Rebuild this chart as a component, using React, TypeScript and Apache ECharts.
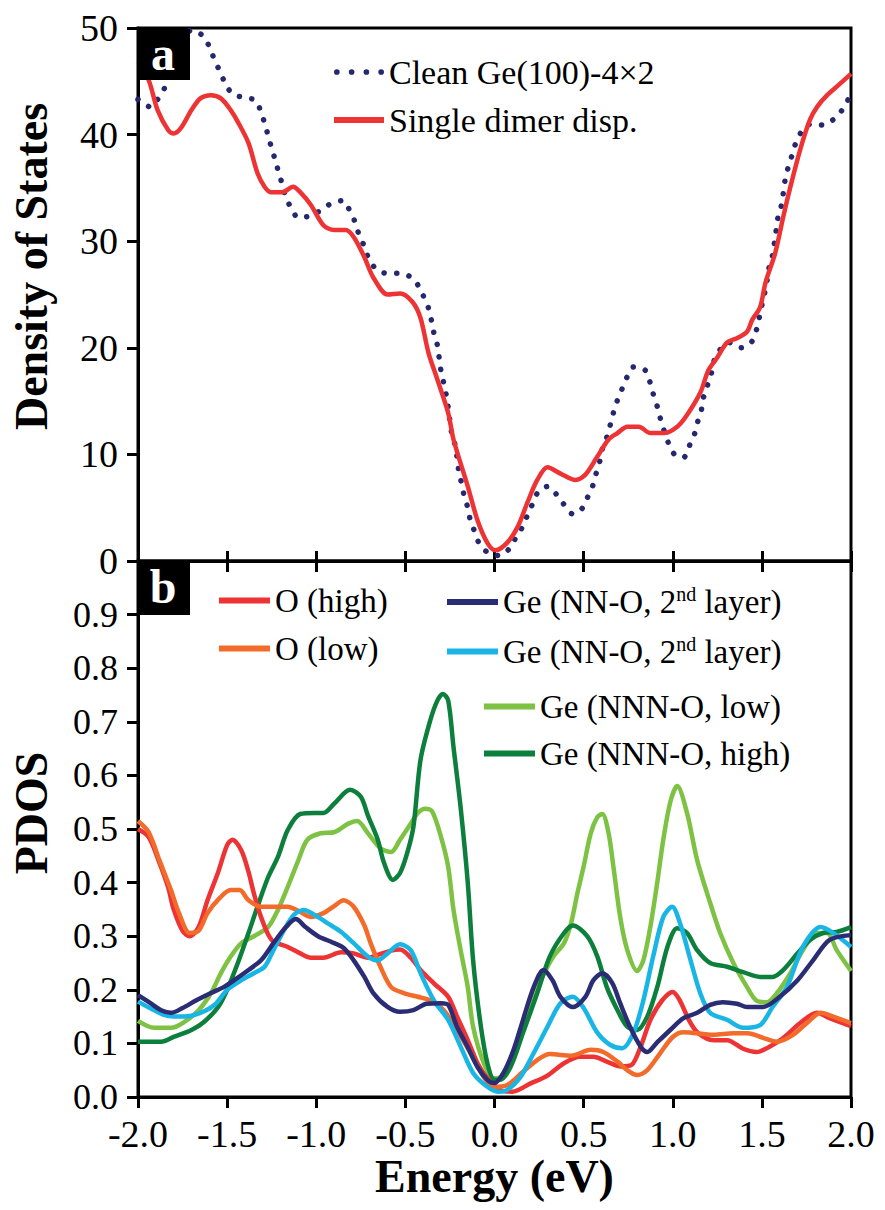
import React, { useEffect, useRef } from "react";
import * as echarts from "echarts";

const FONT = "Liberation Serif";

// Energy tick labels
const energyTicks = ["-2.0", "-1.5", "-1.0", "-0.5", "0.0", "0.5", "1.0", "1.5", "2.0"];

// Panel a: total density of states [energy (eV), DOS]
const cleanGe: number[][] = [
  [-2.0, 43.3], [-1.99, 43.2], [-1.93, 42.6], [-1.89, 43.3], [-1.85, 44.4], [-1.77, 47.5], [-1.7, 49.8],
  [-1.63, 49.2], [-1.597, 48.1], [-1.57, 47], [-1.54, 45.9], [-1.51, 44.8], [-1.47, 43.8], [-1.41, 43.5],
  [-1.34, 43.2], [-1.31, 42.1], [-1.29, 41.1], [-1.27, 39.9], [-1.25, 38.7], [-1.23, 37.6], [-1.21, 36.4],
  [-1.19, 35.3], [-1.17, 34.1], [-1.14, 33.1], [-1.1, 32.2], [-1.03, 32.4], [-0.975, 32.9], [-0.91, 33.6],
  [-0.85, 33.8], [-0.81, 32.8], [-0.78, 31.7], [-0.76, 30.6], [-0.73, 29.5], [-0.706, 28.4], [-0.67, 27.5],
  [-0.61, 27], [-0.54, 27], [-0.476, 26.7], [-0.43, 25.9], [-0.4, 24.9], [-0.37, 23.7], [-0.353, 22.5],
  [-0.34, 21.4], [-0.32, 20.2], [-0.31, 19], [-0.3, 17.8], [-0.285, 16.7], [-0.27, 15.5], [-0.26, 14.4],
  [-0.25, 13.1], [-0.24, 12], [-0.22, 10.8], [-0.21, 9.7], [-0.2, 8.4], [-0.185, 7.3], [-0.17, 6.1],
  [-0.15, 5], [-0.135, 3.8], [-0.11, 2.7], [-0.084, 1.6], [-0.034, 0.75], [0.03, 0.5], [0.08, 1.1],
  [0.12, 2.2], [0.157, 3.2], [0.185, 4.3], [0.215, 5.4], [0.246, 6.5], [0.3, 7], [0.35, 6.2], [0.39, 5.3],
  [0.44, 4.4], [0.49, 4.9], [0.52, 5.9], [0.55, 7], [0.57, 8.2], [0.59, 9.3], [0.605, 10.5], [0.63, 11.6],
  [0.65, 12.8], [0.667, 13.9], [0.69, 15.1], [0.717, 16.2], [0.745, 17.3], [0.78, 18.2], [0.845, 17.9],
  [0.87, 16.9], [0.89, 15.7], [0.913, 14.5], [0.93, 13.4], [0.95, 12.3], [0.975, 11.1], [1.01, 10],
  [1.06, 9.7], [1.09, 10.7], [1.12, 11.8], [1.137, 12.9], [1.16, 14.1], [1.17, 15.2], [1.193, 16.4],
  [1.215, 17.5], [1.23, 18.7], [1.26, 19.7], [1.316, 20.5], [1.38, 20], [1.44, 20.5], [1.47, 21.7],
  [1.485, 22.8], [1.5, 24], [1.515, 25.1], [1.53, 26.4], [1.54, 27.5], [1.56, 28.7], [1.57, 29.8],
  [1.58, 31], [1.59, 32.2], [1.61, 33.4], [1.62, 34.5], [1.63, 35.7], [1.647, 36.9], [1.67, 38.1],
  [1.69, 39.2], [1.72, 40.2], [1.775, 41], [1.84, 40.9], [1.9, 41.4], [1.95, 42.3], [1.985, 43.3], [2.0, 43.6],
];

const singleDimer: number[][] = [
  [-2.0, 46.8], [-1.94, 45.1], [-1.89, 42.3], [-1.83, 40.4], [-1.8, 40.1], [-1.76, 40.6], [-1.7, 42.3],
  [-1.65, 43.4], [-1.59, 43.7], [-1.535, 43.4], [-1.48, 42.3], [-1.44, 41.2], [-1.38, 39.2], [-1.33, 36.4],
  [-1.29, 35.1], [-1.255, 34.6], [-1.19, 34.6], [-1.13, 35.1], [-1.09, 34.6], [-1.03, 33.4], [-0.96, 31.5],
  [-0.9, 31.05], [-0.835, 31.05], [-0.79, 30.4], [-0.73, 28.5], [-0.68, 26.6], [-0.6, 25], [-0.53, 25.1],
  [-0.46, 24.3], [-0.415, 22.8], [-0.37, 19.5], [-0.32, 17], [-0.26, 13.9], [-0.23, 11.4], [-0.15, 7],
  [-0.095, 3.8], [-0.04, 1.7], [0.005, 1.0], [0.07, 1.7], [0.13, 3.2], [0.185, 5.5], [0.24, 7.6],
  [0.297, 8.8], [0.37, 8.2], [0.454, 7.6], [0.51, 8.1], [0.577, 9.8], [0.64, 11.4], [0.69, 12],
  [0.745, 12.6], [0.81, 12.6], [0.874, 12], [0.95, 12], [1.025, 12.6], [1.08, 13.7], [1.155, 15.8],
  [1.2, 17.9], [1.25, 19.1], [1.305, 20.5], [1.36, 20.9], [1.417, 21.5], [1.445, 22.6], [1.49, 23.8],
  [1.52, 26.1], [1.575, 28.9], [1.62, 32.3], [1.66, 35.1], [1.715, 38.6], [1.77, 41.4], [1.81, 42.6],
  [1.866, 43.7], [1.92, 44.5], [2.0, 45.7],
];

// Panel b: projected DOS [energy (eV), PDOS]
const oHigh: number[][] = [
  [-2.0, 0.5], [-1.94, 0.485], [-1.88, 0.437], [-1.83, 0.39], [-1.8, 0.35], [-1.75, 0.31], [-1.71, 0.3],
  [-1.66, 0.317], [-1.61, 0.367], [-1.55, 0.42], [-1.5, 0.47], [-1.47, 0.48], [-1.42, 0.46], [-1.38, 0.42],
  [-1.35, 0.38], [-1.31, 0.336], [-1.25, 0.293], [-1.16, 0.28], [-1.09, 0.268], [-1.03, 0.26], [-0.96, 0.26],
  [-0.86, 0.27], [-0.79, 0.268], [-0.71, 0.26], [-0.655, 0.265], [-0.58, 0.273], [-0.53, 0.275], [-0.47, 0.26],
  [-0.415, 0.237], [-0.34, 0.212], [-0.26, 0.187], [-0.21, 0.15], [-0.15, 0.106], [-0.095, 0.063],
  [-0.04, 0.035], [0.03, 0.013], [0.1, 0.01], [0.2, 0.025], [0.297, 0.04], [0.39, 0.063], [0.48, 0.075],
  [0.555, 0.075], [0.63, 0.066], [0.71, 0.057], [0.77, 0.06], [0.82, 0.094], [0.875, 0.144], [0.94, 0.18],
  [1.0, 0.196], [1.04, 0.18], [1.09, 0.144], [1.14, 0.12], [1.23, 0.106], [1.305, 0.106], [1.395, 0.09],
  [1.47, 0.084], [1.545, 0.094], [1.62, 0.11], [1.715, 0.138], [1.81, 0.157], [1.88, 0.147], [2.0, 0.132],
];

const oLow: number[][] = [
  [-2.0, 0.515], [-1.94, 0.494], [-1.88, 0.442], [-1.815, 0.386], [-1.77, 0.343], [-1.71, 0.306],
  [-1.66, 0.31], [-1.61, 0.343], [-1.545, 0.37], [-1.48, 0.386], [-1.43, 0.386], [-1.38, 0.367],
  [-1.31, 0.355], [-1.24, 0.355], [-1.16, 0.355], [-1.1, 0.347], [-1.03, 0.336], [-0.96, 0.343],
  [-0.9, 0.356], [-0.846, 0.367], [-0.79, 0.355], [-0.73, 0.32], [-0.695, 0.287], [-0.64, 0.243],
  [-0.58, 0.205], [-0.51, 0.194], [-0.43, 0.187], [-0.36, 0.18], [-0.285, 0.162], [-0.21, 0.125],
  [-0.135, 0.082], [-0.06, 0.037], [-0.005, 0.019], [0.07, 0.022], [0.16, 0.047], [0.24, 0.069],
  [0.31, 0.08], [0.43, 0.077], [0.54, 0.088], [0.61, 0.084], [0.69, 0.066], [0.745, 0.05], [0.8, 0.041],
  [0.857, 0.05], [0.93, 0.082], [1.0, 0.112], [1.06, 0.121], [1.23, 0.116], [1.34, 0.119], [1.42, 0.119],
  [1.51, 0.11], [1.585, 0.103], [1.675, 0.116], [1.753, 0.138], [1.83, 0.157], [1.9, 0.15], [2.0, 0.138],
];

const geNN2Navy: number[][] = [
  [-2.0, 0.19], [-1.93, 0.175], [-1.87, 0.162], [-1.815, 0.157], [-1.75, 0.166], [-1.675, 0.18],
  [-1.59, 0.194], [-1.52, 0.205], [-1.46, 0.218], [-1.38, 0.237], [-1.31, 0.255], [-1.24, 0.287],
  [-1.17, 0.317], [-1.115, 0.332], [-1.06, 0.317], [-0.99, 0.3], [-0.92, 0.29], [-0.846, 0.278],
  [-0.79, 0.255], [-0.73, 0.224], [-0.68, 0.194], [-0.6, 0.168], [-0.53, 0.159], [-0.455, 0.162],
  [-0.38, 0.174], [-0.3, 0.175], [-0.26, 0.172], [-0.21, 0.131], [-0.15, 0.093], [-0.095, 0.056],
  [-0.04, 0.032], [0.0, 0.026], [0.05, 0.045], [0.107, 0.088], [0.16, 0.144], [0.22, 0.205],
  [0.275, 0.237], [0.325, 0.218], [0.37, 0.187], [0.44, 0.168], [0.51, 0.187], [0.555, 0.218],
  [0.605, 0.231], [0.66, 0.213], [0.705, 0.175], [0.76, 0.131], [0.82, 0.094], [0.857, 0.084],
  [0.91, 0.101], [0.986, 0.125], [1.06, 0.147], [1.137, 0.157], [1.21, 0.172], [1.28, 0.177],
  [1.36, 0.174], [1.417, 0.168], [1.507, 0.168], [1.6, 0.187], [1.7, 0.218], [1.787, 0.255],
  [1.88, 0.293], [2.0, 0.302],
];

const geNN2Cyan: number[][] = [
  [-2.0, 0.178], [-1.91, 0.162], [-1.83, 0.151], [-1.74, 0.15], [-1.65, 0.157], [-1.57, 0.172],
  [-1.5, 0.2], [-1.42, 0.218], [-1.35, 0.231], [-1.29, 0.243], [-1.24, 0.274], [-1.18, 0.312],
  [-1.125, 0.34], [-1.07, 0.349], [-1.01, 0.34], [-0.935, 0.324], [-0.86, 0.308], [-0.79, 0.287],
  [-0.71, 0.262], [-0.655, 0.255], [-0.6, 0.268], [-0.53, 0.285], [-0.47, 0.274], [-0.415, 0.231],
  [-0.34, 0.18], [-0.26, 0.144], [-0.19, 0.094], [-0.12, 0.045], [-0.04, 0.019], [0.02, 0.01],
  [0.07, 0.013], [0.145, 0.037], [0.22, 0.082], [0.297, 0.131], [0.37, 0.175], [0.44, 0.187],
  [0.5, 0.166], [0.577, 0.12], [0.65, 0.097], [0.717, 0.091], [0.78, 0.12], [0.835, 0.18],
  [0.89, 0.262], [0.947, 0.336], [0.997, 0.355], [1.04, 0.325], [1.1, 0.255], [1.154, 0.194],
  [1.21, 0.157], [1.305, 0.144], [1.395, 0.129], [1.49, 0.134], [1.56, 0.168], [1.64, 0.205],
  [1.73, 0.28], [1.83, 0.317], [1.9, 0.306], [2.0, 0.28],
];

const geNNNLow: number[][] = [
  [-2.0, 0.142], [-1.91, 0.129], [-1.815, 0.129], [-1.74, 0.14], [-1.66, 0.162], [-1.59, 0.194],
  [-1.535, 0.231], [-1.48, 0.262], [-1.42, 0.287], [-1.35, 0.3], [-1.27, 0.317], [-1.215, 0.349],
  [-1.16, 0.392], [-1.1, 0.442], [-1.05, 0.48], [-0.975, 0.492], [-0.9, 0.494], [-0.82, 0.51],
  [-0.77, 0.515], [-0.71, 0.492], [-0.64, 0.464], [-0.58, 0.457], [-0.53, 0.48], [-0.47, 0.51],
  [-0.43, 0.53], [-0.39, 0.538], [-0.35, 0.533], [-0.3, 0.485], [-0.26, 0.43], [-0.23, 0.349],
  [-0.19, 0.274], [-0.15, 0.205], [-0.12, 0.131], [-0.06, 0.063], [-0.005, 0.035], [0.05, 0.04],
  [0.107, 0.082], [0.185, 0.157], [0.26, 0.218], [0.33, 0.262], [0.39, 0.287], [0.43, 0.325],
  [0.465, 0.38], [0.5, 0.43], [0.54, 0.492], [0.577, 0.522], [0.605, 0.528], [0.64, 0.492],
  [0.667, 0.43], [0.705, 0.336], [0.745, 0.274], [0.8, 0.235], [0.835, 0.255], [0.874, 0.317],
  [0.913, 0.4], [0.947, 0.48], [0.986, 0.55], [1.025, 0.58], [1.08, 0.53], [1.137, 0.442],
  [1.21, 0.362], [1.266, 0.306], [1.34, 0.25], [1.417, 0.205], [1.47, 0.18], [1.53, 0.177],
  [1.585, 0.194], [1.66, 0.231], [1.73, 0.274], [1.81, 0.306], [1.866, 0.306], [1.92, 0.274], [2.0, 0.235],
];

const geNNNHigh: number[][] = [
  [-2.0, 0.103], [-1.87, 0.103], [-1.8, 0.112], [-1.7, 0.125], [-1.63, 0.14], [-1.55, 0.168],
  [-1.5, 0.2], [-1.44, 0.25], [-1.38, 0.306], [-1.33, 0.355], [-1.27, 0.41], [-1.215, 0.448],
  [-1.16, 0.498], [-1.09, 0.528], [-1.01, 0.53], [-0.96, 0.53], [-0.9, 0.547], [-0.81, 0.573],
  [-0.75, 0.56], [-0.71, 0.525], [-0.655, 0.48], [-0.62, 0.437], [-0.57, 0.405], [-0.53, 0.418],
  [-0.49, 0.455], [-0.455, 0.504], [-0.415, 0.629], [-0.36, 0.703], [-0.32, 0.74], [-0.29, 0.752],
  [-0.26, 0.74], [-0.23, 0.653], [-0.19, 0.54], [-0.15, 0.4], [-0.12, 0.255], [-0.08, 0.14],
  [-0.04, 0.063], [0.0, 0.032], [0.03, 0.032], [0.09, 0.056], [0.16, 0.12], [0.24, 0.194],
  [0.31, 0.262], [0.39, 0.306], [0.44, 0.32], [0.52, 0.3], [0.577, 0.262], [0.63, 0.205],
  [0.69, 0.162], [0.745, 0.131], [0.8, 0.125], [0.857, 0.15], [0.913, 0.205], [0.97, 0.28],
  [1.025, 0.315], [1.08, 0.306], [1.137, 0.274], [1.21, 0.25], [1.305, 0.243], [1.395, 0.233],
  [1.49, 0.224], [1.56, 0.224], [1.62, 0.237], [1.7, 0.268], [1.77, 0.293], [1.843, 0.306],
  [1.92, 0.308], [2.0, 0.317],
];

const NAME_CLEAN = "Clean Ge(100)-4×2";
const NAME_DIMER = "Single dimer disp.";
const NAME_OHIGH = "O (high)";
const NAME_OLOW = "O (low)";
const NAME_NAVY = "Ge (NN-O, 2nd layer)";
const NAME_CYAN = "Ge (NN-O, 2nd layer) ";
const NAME_NNNLOW = "Ge (NNN-O, low)";
const NAME_NNNHIGH = "Ge (NNN-O, high)";

const DOTS_ICON =
  "path://M0,2.5a2.5,2.5 0 1,0 5,0a2.5,2.5 0 1,0 -5,0Z" +
  "M13,2.5a2.5,2.5 0 1,0 5,0a2.5,2.5 0 1,0 -5,0Z" +
  "M26,2.5a2.5,2.5 0 1,0 5,0a2.5,2.5 0 1,0 -5,0Z" +
  "M39,2.5a2.5,2.5 0 1,0 5,0a2.5,2.5 0 1,0 -5,0Z";

export default function App() {
  const ref = useRef<HTMLDivElement>(null);

  useEffect(() => {
    if (!ref.current) return;
    const chart = echarts.init(ref.current, undefined, { renderer: "svg" });

    const L = 137;
    const W = 714;
    const axisLine = { show: true, onZero: false, lineStyle: { color: "#000", width: 3 } };
    const tickStyle = { width: 3, color: "#000" };

    const legendText = (size: number) => ({
      fontFamily: FONT,
      fontSize: size,
      color: "#000",
      rich: {
        t: { fontFamily: FONT, fontSize: size, color: "#000", lineHeight: 36 },
        s: { fontFamily: FONT, fontSize: 20, color: "#000", lineHeight: 22, verticalAlign: "top" },
      },
    });
    const legendFmt = (name: string) => {
      if (name.indexOf("2nd") >= 0) return "{t|Ge (NN-O, 2}{s|nd}{t| layer)}";
      return "{t|" + name + "}";
    };

    const line = (name: string, data: number[][], color: string, idx: number, width = 4.5) => ({
      type: "line",
      name,
      data,
      xAxisIndex: idx === 0 ? 0 : 1,
      yAxisIndex: idx,
      showSymbol: false,
      symbol: "none",
      smooth: 0.3,
      clip: true,
      lineStyle: { color, width },
      itemStyle: { color },
    });

    const option: any = {
      animation: false,
      backgroundColor: "#fff",
      textStyle: { fontFamily: FONT },
      grid: [
        { left: L, width: W, top: 28, height: 533, show: true, borderColor: "#000", borderWidth: 3 },
        { left: L, width: W, top: 561, height: 536, show: true, borderColor: "#000", borderWidth: 3 },
      ],
      xAxis: [
        {
          type: "value", gridIndex: 0, min: -2, max: 2, interval: 0.5,
          axisLine, axisTick: { inside: true, length: 10, lineStyle: tickStyle },
          axisLabel: { show: false }, splitLine: { show: false },
        },
        {
          type: "value", gridIndex: 1, min: -2, max: 2, interval: 0.5,
          axisLine, axisTick: { length: 11, lineStyle: tickStyle },
          axisLabel: {
            fontFamily: FONT, fontSize: 38, color: "#000", margin: 18,
            formatter: (v: number) => energyTicks[Math.round((v + 2) / 0.5)],
          },
          splitLine: { show: false },
          name: "Energy (eV)", nameLocation: "middle", nameGap: 56,
          nameTextStyle: { fontFamily: FONT, fontSize: 46, fontWeight: "bold", color: "#000" },
        },
        {
          type: "value", gridIndex: 1, min: -2, max: 2, interval: 0.5, position: "top",
          axisLine, axisTick: { inside: true, length: 11, lineStyle: tickStyle },
          axisLabel: { show: false }, splitLine: { show: false },
        },
      ],
      yAxis: [
        {
          type: "value", gridIndex: 0, min: 0, max: 50, interval: 10,
          axisLine,
          axisTick: { show: true, length: 11, lineStyle: tickStyle },
          axisLabel: { fontFamily: FONT, fontSize: 38, color: "#000", margin: 20 },
          splitLine: { show: false },
          name: "Density of States", nameLocation: "middle", nameGap: 84, nameRotate: 90,
          nameTextStyle: {
            fontFamily: FONT, fontSize: 46, fontWeight: "bold", color: "#000", padding: [0, 0, 0, 56],
          },
        },
        {
          type: "value", gridIndex: 1, min: 0, max: 1, interval: 0.1,
          axisLine,
          axisTick: { show: true, length: 11, lineStyle: tickStyle },
          axisLabel: {
            fontFamily: FONT, fontSize: 36, color: "#000", margin: 20, showMaxLabel: false,
            formatter: (v: number) => v.toFixed(1),
          },
          splitLine: { show: false },
          name: "PDOS", nameLocation: "middle", nameGap: 84, nameRotate: 90,
          nameTextStyle: {
            fontFamily: FONT, fontSize: 46, fontWeight: "bold", color: "#000", padding: [0, 0, 0, 32],
          },
        },
      ],
      legend: [
        {
          data: [
            { name: NAME_CLEAN, icon: DOTS_ICON },
            { name: NAME_DIMER, icon: "rect" },
          ],
          orient: "vertical", left: 329, top: 50,
          itemWidth: 50, itemHeight: 6, itemGap: 14, selectedMode: false,
          textStyle: legendText(34), formatter: legendFmt,
        },
        {
          data: [NAME_OHIGH, NAME_OLOW], icon: "rect", orient: "vertical", left: 214, top: 579,
          itemWidth: 51, itemHeight: 6, itemGap: 15, selectedMode: false,
          textStyle: legendText(33), formatter: legendFmt,
        },
        {
          data: [NAME_NAVY, NAME_CYAN], icon: "rect", orient: "vertical", left: 442, top: 579,
          itemWidth: 51, itemHeight: 6, itemGap: 15, selectedMode: false,
          textStyle: legendText(33), formatter: legendFmt,
        },
        {
          data: [NAME_NNNLOW, NAME_NNNHIGH], icon: "rect", orient: "vertical", left: 479, top: 685,
          itemWidth: 51, itemHeight: 6, itemGap: 14, selectedMode: false,
          textStyle: legendText(33), formatter: legendFmt,
        },
      ],
      series: [
        {
          ...line(NAME_CLEAN, cleanGe, "#25286e", 0, 5.5),
          lineStyle: { color: "#25286e", width: 5.5, type: [0.1, 12.5], cap: "round" },
        },
        line(NAME_DIMER, singleDimer, "#ee3334", 0, 4.5),
        line(NAME_NNNLOW, geNNNLow, "#7dc243", 1),
        line(NAME_NNNHIGH, geNNNHigh, "#0c7f3c", 1),
        line(NAME_OHIGH, oHigh, "#ee3334", 1),
        line(NAME_OLOW, oLow, "#f26b2a", 1),
        line(NAME_CYAN, geNN2Cyan, "#19b5e5", 1),
        line(NAME_NAVY, geNN2Navy, "#2b2d74", 1),
      ],
      graphic: [
        { type: "rect", z: 100, shape: { x: 137, y: 29, width: 53, height: 51 }, style: { fill: "#000" } },
        {
          type: "text", z: 101, x: 163, y: 53,
          style: { text: "a", fill: "#fff", font: "bold 48px Liberation Serif", align: "center", verticalAlign: "middle" },
        },
        { type: "rect", z: 100, shape: { x: 137, y: 562, width: 53, height: 53 }, style: { fill: "#000" } },
        {
          type: "text", z: 101, x: 163, y: 586,
          style: { text: "b", fill: "#fff", font: "bold 48px Liberation Serif", align: "center", verticalAlign: "middle" },
        },
      ],
    };

    chart.setOption(option);
    return () => chart.dispose();
  }, []);

  return <div ref={ref} style={{ width: 885, height: 1210, position: "absolute", left: 0, top: 0 }} />;
}
